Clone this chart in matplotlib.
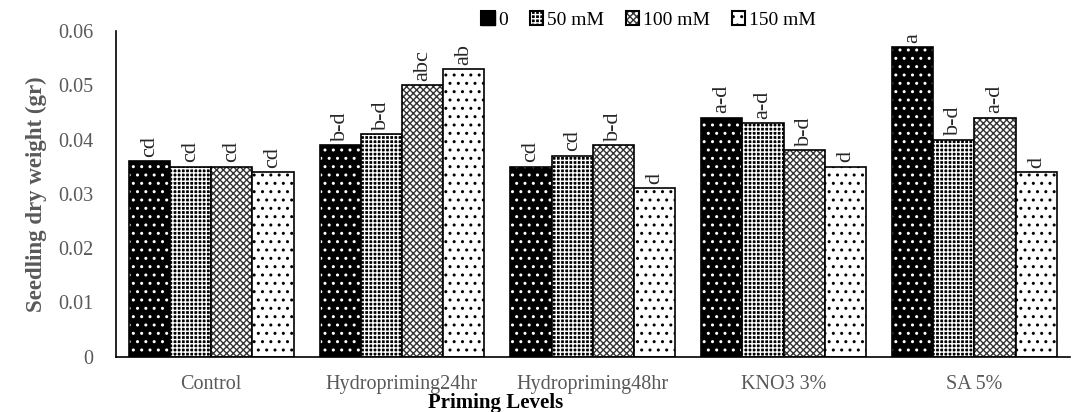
import numpy as np
import matplotlib
matplotlib.use("Agg")
import matplotlib.pyplot as plt
from matplotlib.patches import Patch
from matplotlib.legend_handler import HandlerTuple

plt.rcParams['font.family'] = ['Liberation Serif', 'DejaVu Serif']
plt.rcParams['hatch.linewidth'] = 1.0

#%% Donnees
niveaux = ["Control", "Hydropriming24hr", "Hydropriming48hr", "KNO3 3%", "SA 5%"]
doses = ["0", "50 mM", "100 mM", "150 mM"]

v_0 = [0.036, 0.039, 0.035, 0.044, 0.057]
v_50 = [0.035, 0.041, 0.037, 0.043, 0.040]
v_100 = [0.035, 0.050, 0.039, 0.038, 0.044]
v_150 = [0.034, 0.053, 0.031, 0.035, 0.034]

l_0 = ["cd", "b-d", "cd", "a-d", "a"]
l_50 = ["cd", "b-d", "cd", "a-d", "b-d"]
l_100 = ["cd", "abc", "b-d", "b-d", "a-d"]
l_150 = ["cd", "ab", "d", "d", "d"]

valeurs = [v_0, v_50, v_100, v_150]
lettres = [l_0, l_50, l_100, l_150]

# style : (couleur fond, couleur hachure, hachure)
styles = [("black", "white", ".."),
          ("black", "white", "++++"),
          ("white", "#333333", "xxxxx"),
          ("white", "black", "..")]

fig = plt.figure(figsize=(10.72, 4.12), dpi=100)
ax = fig.add_axes([0.108, 0.134, 0.89, 0.791])

x = np.arange(len(niveaux))
w = 0.216
for i in range(4):
    pos = x + (i - 1.5) * w
    fc, hc, h = styles[i]
    ax.bar(pos, valeurs[i], w, color=fc, edgecolor=hc, hatch=h, linewidth=0)
    ax.bar(pos, valeurs[i], w, fill=False, edgecolor="black", linewidth=1.2)
    for p, v, t in zip(pos, valeurs[i], lettres[i]):
        ax.text(p, v + 0.0008, t, rotation=90, ha="center", va="bottom",
                fontsize=16, color="#262626")

ax.set_xlim(-0.5, 4.5)
ax.set_ylim(0, 0.06)
ax.set_yticks(np.arange(0, 0.061, 0.01))
ax.set_yticklabels(["0", "0.01", "0.02", "0.03", "0.04", "0.05", "0.06"])
ax.set_xticks(x)
ax.set_xticklabels(niveaux)
ax.tick_params(axis="both", length=0, labelsize=14.5, labelcolor="#595959")
ax.tick_params(axis="y", pad=16)
ax.tick_params(axis="x", pad=13)
ax.spines["top"].set_visible(False)
ax.spines["right"].set_visible(False)
ax.spines["left"].set_linewidth(1.2)
ax.spines["bottom"].set_linewidth(1.2)

ax.set_ylabel("Seedling dry weight (gr)", fontsize=16.5, fontweight="bold",
              color="#595959", labelpad=8)
fig.text(0.462, 0.045, "Priming Levels", fontsize=15, fontweight="bold",
         ha="center", va="top")

# legende : fond hachure + contour noir superposes
handles = []
for i, s in enumerate(styles):
    if i == 0:
        fond = Patch(facecolor="black", edgecolor="black")
    else:
        fond = Patch(facecolor=s[0], edgecolor=s[1], hatch=s[2], linewidth=0)
    contour = Patch(fill=False, edgecolor="black", linewidth=1.5)
    handles.append((fond, contour))
fig.legend(handles, doses, loc="upper center", bbox_to_anchor=(0.605, 1.015),
           ncol=4, frameon=False, fontsize=14, handlelength=0.7,
           handleheight=0.7, columnspacing=1.1, handletextpad=0.2,
           handler_map={tuple: HandlerTuple(ndivide=1)})

fig.savefig("out.png", dpi=100)
